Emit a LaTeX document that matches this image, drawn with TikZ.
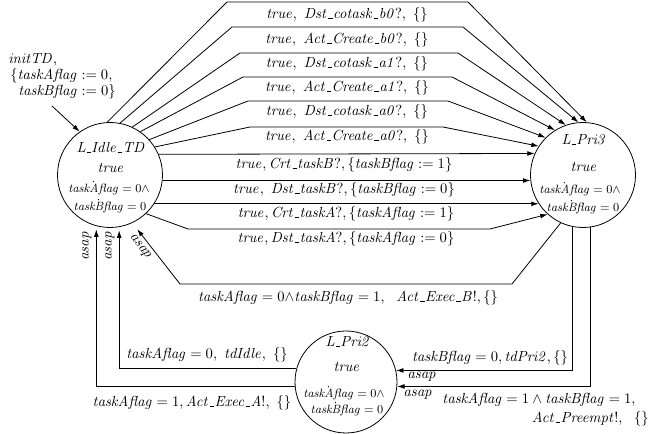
\documentclass[tikz,border=0pt]{standalone}
\usetikzlibrary{arrows.meta,calc}
\newcommand{\itv}[1]{\mathit{#1}}
% short low rule between identifier parts
\newcommand{\us}{\kern.06em\vbox{\hrule width.32em}\kern.03em}
\begin{document}
\begin{tikzpicture}[x=0.75pt,y=-0.75pt,
  loc/.style={circle,draw,line width=0.6pt,inner sep=0pt,minimum size=78.75pt},
  edge/.style={draw,line width=0.6pt,-{Latex[length=5.5pt,width=3.6pt]}},
  lab/.style={inner sep=0pt,font=\fontsize{10.5}{12}\selectfont},
  inv/.style={inner sep=0pt,font=\fontsize{8.6}{10}\selectfont},
]
\useasboundingbox (0,0) rectangle (651,434);

% locations
\node[loc] (idle) at (110,175) {};
\node[loc] (pri3) at (583,175) {};
\node[loc,minimum size=76.5pt] (pri2) at (346,382) {};

% location contents
\node[lab] (idleN) at (111,147) {$\itv{L\us Idle\us TD}$};
\node[lab] (idleT) at (111,168) {$\itv{true}$};
\node[inv] (idleA) at (109,188) {$\dot{\itv{taskAflag}} = 0{\wedge}$};
\node[inv] (idleB) at (110,206) {$\dot{\itv{taskBflag}} = 0$};

\node[lab] (pri3N) at (584,140) {$\itv{L\us Pri3}$};
\node[lab] (pri3T) at (584,167) {$\itv{true}$};
\node[inv] (pri3A) at (580,189) {$\dot{\itv{taskAflag}} = 0{\wedge}$};
\node[inv] (pri3B) at (583,207) {$\dot{\itv{taskBflag}} = 0$};

\node[lab] (pri2N) at (348,342) {$\itv{L\us Pri2}$};
\node[lab] (pri2T) at (347,367) {$\itv{true}$};
\node[inv] (pri2A) at (344,393) {$\dot{\itv{taskAflag}} = 0{\wedge}$};
\node[inv] (pri2B) at (347,409) {$\dot{\itv{taskBflag}} = 0$};

% initial location
\node[lab,anchor=west] (init1) at (8,60) {$\itv{initTD},$};
\node[lab,anchor=west] (init2) at (10,76) {$\{\itv{taskAflag} := 0,$};
\node[lab,anchor=west] (init3) at (18,92) {$\itv{taskBflag} := 0\}$};
\coordinate (init) at (52,106);
\draw[edge] (init) -- (idle.125);

% upper bundle idle -> pri3
\draw[edge] (idle.93) -- (227,2) -- (468,2) -- (pri3.86);
\draw[edge] (idle.79) -- (232,27) -- (463,27) -- (pri3.95);
\draw[edge] (idle.65) -- (240,53) -- (458,53) -- (pri3.109);
\draw[edge] (idle.55) -- (243,77) -- (452,77) -- (pri3.122);
\draw[edge] (idle.42) -- (248,101) -- (448,101) -- (pri3.135);
\draw[edge] (idle.32) -- (250,127) -- (443,127) -- (pri3.147);
\node[lab] (l1) at (347,15) {$\itv{true},\ \itv{Dst\us cotask\us b0?},\ \{\}$};
\node[lab] (l2) at (347,40) {$\itv{true},\ \itv{Act\us Create\us b0?},\ \{\}$};
\node[lab] (l3) at (347,64) {$\itv{true},\ \itv{Dst\us cotask\us a1?},\ \{\}$};
\node[lab] (l4) at (347,88) {$\itv{true},\ \itv{Act\us Create\us a1?},\ \{\}$};
\node[lab] (l5) at (347,112) {$\itv{true},\ \itv{Dst\us cotask\us a0?},\ \{\}$};
\node[lab] (l6) at (347,137) {$\itv{true},\ \itv{Act\us Create\us a0?},\ \{\}$};

% straight edges idle -> pri3
\draw[edge] (idle.23.6) -- (pri3.156.4);
\draw[edge] (idle.-6.6) -- (pri3.186.6);
\draw[edge] (idle.-33.5) -- (pri3.213.5);
\draw[edge] (idle.-47) -- (188,229) -- (490,229) -- (pri3.228);
\node[lab] (l7) at (344,165) {$\itv{true}, \itv{Crt\us taskB?}, \{\itv{taskBflag} := 1\}$};
\node[lab] (l8) at (344,190) {$\itv{true},\ \itv{Dst\us taskB?}, \{\itv{taskBflag} := 0\}$};
\node[lab] (l9) at (346,214) {$\itv{true}, \itv{Crt\us taskA?}, \{\itv{taskAflag} := 1\}$};
\node[lab] (l10) at (346,239) {$\itv{true}, \itv{Dst\us taskA?}, \{\itv{taskAflag} := 0\}$};

% pri3 -> idle
\draw[edge,shorten >=6pt] (pri3.245) -- (512,284) -- (180,284) -- (idle.-65);
\node[lab] (l11) at (348,298) {$\itv{taskAflag} = 0{\wedge}\itv{taskBflag} = 1,\ \ \itv{Act\us Exec\us B!}, \{\}$};
\node[lab,rotate=-52] (a11) at (140,247) {$\itv{asap}$};

% pri3 -> pri2
\draw[edge] (pri3.-102) |- (pri2.13.5);
\draw[edge] (pri3.-82) |- (pri2.-5);
\node[lab] (l12) at (490,358) {$\itv{taskBflag} = 0, \itv{tdPri2},\{\}$};
\node[lab] (a12) at (422,377) {$\itv{asap}$};
\node[lab] (a13) at (418,395) {$\itv{asap}$};
\node[lab] (l13a) at (539,400) {$\itv{taskAflag} = 1 \wedge \itv{taskBflag} = 1,$};
\node[lab,anchor=east] (l13b) at (649,419) {$\itv{Act\us Preempt!},\ \ \{\}$};

% pri2 -> idle
\draw[edge,shorten >=2.5pt] (pri2.165) -| (idle.-80);
\draw[edge,shorten >=2.5pt] (pri2.185) -| (idle.-105);
\node[lab] (l14) at (207,355) {$\itv{taskAflag} = 0,\ \itv{tdIdle},\ \{\}$};
\node[lab] (l15) at (192,403) {$\itv{taskAflag} = 1, \itv{Act\us Exec\us A!},\ \{\}$};
\node[lab,rotate=90] (a14) at (110,246) {$\itv{asap}$};
\node[lab,rotate=90] (a15) at (87,246) {$\itv{asap}$};
\end{tikzpicture}
\end{document}
